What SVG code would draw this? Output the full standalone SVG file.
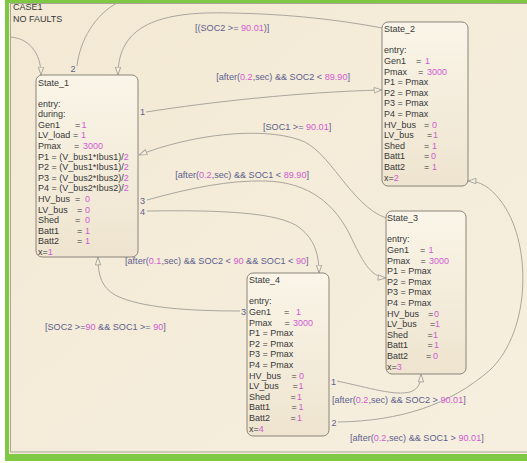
<svg xmlns="http://www.w3.org/2000/svg" width="527" height="463" viewBox="0 0 527 463">
<defs>
<linearGradient id="bg" x1="0" y1="0" x2="1" y2="1"><stop offset="0" stop-color="#f3e9d4"/><stop offset="1" stop-color="#f6efdf"/></linearGradient>
<linearGradient id="sg" x1="0" y1="0" x2="0" y2="1"><stop offset="0" stop-color="#faf5e8"/><stop offset="1" stop-color="#eee4cf"/></linearGradient>
<marker id="ah" markerUnits="userSpaceOnUse" markerWidth="9" markerHeight="7" viewBox="0 0 9 7" refX="8.5" refY="3.5" orient="auto"><path d="M0.6,0.8 L8.4,3.5 L0.6,6.2 Z" fill="#f5eedd" stroke="#a3a097" stroke-width="0.9"/></marker>
<style>
.t{font-family:"Liberation Sans",Arial,sans-serif;font-size:9px;fill:#383838}
.v{fill:#d25ad2}
.l{font-family:"Liberation Sans",Arial,sans-serif;font-size:9.1px;fill:#5c5f8e}
.st{fill:url(#sg);stroke:#8a847a;stroke-width:1}
.c{fill:none;stroke:#aaa69e;stroke-width:1}
</style>
</defs>
<rect x="0" y="0" width="527" height="463" fill="#ffffff"/>
<rect x="5" y="-2" width="530" height="463" fill="#7fc844"/>
<rect x="9" y="3" width="520" height="451" fill="url(#bg)"/>
<rect x="10.5" y="3.5" width="520" height="448.5" fill="none" stroke="#aaa396" stroke-width="1"/>
<text class="t" x="13" y="10">CASE1</text>
<text class="t" x="13" y="21.5">NO FAULTS</text>

<g id="connectors">
<path class="c" d="M10,37 C28,38 41,52 41,75" marker-end="url(#ah)"/>
<path class="c" d="M77,66 C80,40 95,15 117,3"/>
<path class="c" d="M382,28 C340,20 290,14 230,13 C160,11 118,25 118,75" marker-end="url(#ah)"/>
<path class="c" d="M146,112 C210,102 300,92 382,90" marker-end="url(#ah)"/>
<path class="c" d="M386,218 C350,205 330,150 300,140 C260,126 190,135 139,155" marker-end="url(#ah)"/>
<path class="c" d="M147,200 C190,188 230,180 265,181 C310,182 335,205 350,235 C362,260 370,277 386,278" marker-end="url(#ah)"/>
<path class="c" d="M147,211 C220,210 280,212 300,228 C315,240 319,255 319,273" marker-end="url(#ah)"/>
<path class="c" d="M240,311 C190,311 140,308 115,295 C102,287 98,277 98,257" marker-end="url(#ah)"/>
<path class="c" d="M337,381 C370,388 395,396 410,392 C419,389 421,382 421,374" marker-end="url(#ah)"/>
<path class="c" d="M338,422 C400,421 450,405 490,370 C532,330 532,240 500,200 C490,187 480,181 468,181" marker-end="url(#ah)"/>
<text class="l" x="70.5" y="71.5">2</text>
<text class="l" x="140" y="114.5">1</text>
<text class="l" x="140" y="203.5">3</text>
<text class="l" x="140" y="214.5">4</text>
<text class="l" x="241" y="314.5">3</text>
<text class="l" x="331" y="384.5">1</text>
<text class="l" x="331.5" y="425.5">2</text>
<text class="l" x="195" y="30.5">[(SOC2 &gt;= <tspan class="v">90.01</tspan>)]</text>
<text class="l" x="350" y="79.5" text-anchor="end">[after(<tspan class="v">0.2</tspan>,sec) &amp;&amp; SOC2 &lt; <tspan class="v">89.90</tspan>]</text>
<text class="l" x="263" y="129.5">[SOC1 &gt;= <tspan class="v">90.01</tspan>]</text>
<text class="l" x="309" y="177.5" text-anchor="end">[after(<tspan class="v">0.2</tspan>,sec) &amp;&amp; SOC1 &lt; <tspan class="v">89.90</tspan>]</text>
<text class="l" x="125" y="263.5">[after(<tspan class="v">0.1</tspan>,sec) &amp;&amp; SOC2 &lt; <tspan class="v">90</tspan> &amp;&amp; SOC1 &lt; <tspan class="v">90</tspan>]</text>
<text class="l" x="45" y="329.5">[SOC2 &gt;=<tspan class="v">90</tspan> &amp;&amp; SOC1 &gt;= <tspan class="v">90</tspan>]</text>
<text class="l" x="332" y="402.5">[after(<tspan class="v">0.2</tspan>,sec) &amp;&amp; SOC2 &gt; <tspan class="v">90.01</tspan>]</text>
<text class="l" x="350" y="441">[after(<tspan class="v">0.2</tspan>,sec) &amp;&amp; SOC1 &gt; <tspan class="v">90.01</tspan>]</text>
</g>

<g id="State_1">
<rect class="st" x="36" y="75" width="102" height="182" rx="6"/>
<text class="t" x="38" y="85.5">State_1</text>
<text class="t" x="38" y="106.5">entry:</text>
<text class="t" x="38" y="117.1">during:</text>
<text class="t" x="38" y="127.7">Gen1<tspan x="75">=</tspan><tspan class="v" x="81.5">1</tspan></text>
<text class="t" x="38" y="138.3">LV_load<tspan x="73">=</tspan><tspan class="v" x="81">1</tspan></text>
<text class="t" x="38" y="148.9">Pmax<tspan x="74">=</tspan><tspan class="v" x="83">3000</tspan></text>
<text class="t" x="38" y="159.5">P1 = (V_bus1*Ibus1)/<tspan class="v">2</tspan></text>
<text class="t" x="38" y="170.1">P2 = (V_bus1*Ibus1)/<tspan class="v">2</tspan></text>
<text class="t" x="38" y="180.7">P3 = (V_bus2*Ibus2)/<tspan class="v">2</tspan></text>
<text class="t" x="38" y="191.3">P4 = (V_bus2*Ibus2)/<tspan class="v">2</tspan></text>
<text class="t" x="38" y="201.9">HV_bus<tspan x="75">=</tspan><tspan class="v" x="85">0</tspan></text>
<text class="t" x="38" y="212.5">LV_bus<tspan x="77">=</tspan><tspan class="v" x="85">0</tspan></text>
<text class="t" x="38" y="223.1">Shed<tspan x="75">=</tspan><tspan class="v" x="85">0</tspan></text>
<text class="t" x="38" y="233.7">Batt1<tspan x="77">=</tspan><tspan class="v" x="85">1</tspan></text>
<text class="t" x="38" y="244.3">Batt2<tspan x="77">=</tspan><tspan class="v" x="85">1</tspan></text>
<text class="t" x="38" y="254.9">x=<tspan class="v">1</tspan></text>
</g>

<g id="State_2">
<rect class="st" x="382" y="22" width="86" height="164" rx="6"/>
<text class="t" x="384" y="32.3">State_2</text>
<text class="t" x="384" y="53.3">entry:</text>
<text class="t" x="384" y="63.9">Gen1<tspan x="416">=</tspan><tspan class="v" x="425">1</tspan></text>
<text class="t" x="384" y="74.5">Pmax<tspan x="418">=</tspan><tspan class="v" x="427">3000</tspan></text>
<text class="t" x="384" y="85.1">P1 = Pmax</text>
<text class="t" x="384" y="95.7">P2 = Pmax</text>
<text class="t" x="384" y="106.3">P3 = Pmax</text>
<text class="t" x="384" y="116.9">P4 = Pmax</text>
<text class="t" x="384" y="127.5">HV_bus<tspan x="424">=</tspan><tspan class="v" x="432">0</tspan></text>
<text class="t" x="384" y="138.1">LV_bus<tspan x="427">=</tspan><tspan class="v" x="433">1</tspan></text>
<text class="t" x="384" y="148.7">Shed<tspan x="424">=</tspan><tspan class="v" x="432">1</tspan></text>
<text class="t" x="384" y="159.3">Batt1<tspan x="424">=</tspan><tspan class="v" x="431">0</tspan></text>
<text class="t" x="384" y="169.9">Batt2<tspan x="424">=</tspan><tspan class="v" x="432">1</tspan></text>
<text class="t" x="384" y="180.5">x=<tspan class="v">2</tspan></text>
</g>

<g id="State_3">
<rect class="st" x="386" y="211" width="80" height="163" rx="6"/>
<text class="t" x="387" y="221.3">State_3</text>
<text class="t" x="387" y="242.3">entry:</text>
<text class="t" x="387" y="252.9">Gen1<tspan x="420">=</tspan><tspan class="v" x="428.5">1</tspan></text>
<text class="t" x="387" y="263.5">Pmax<tspan x="420.5">=</tspan><tspan class="v" x="429">3000</tspan></text>
<text class="t" x="387" y="274.1">P1 = Pmax</text>
<text class="t" x="387" y="284.7">P2 = Pmax</text>
<text class="t" x="387" y="295.3">P3 = Pmax</text>
<text class="t" x="387" y="305.9">P4 = Pmax</text>
<text class="t" x="387" y="316.5">HV_bus<tspan x="428">=</tspan><tspan class="v" x="434">0</tspan></text>
<text class="t" x="387" y="327.1">LV_bus<tspan x="430">=</tspan><tspan class="v" x="435">1</tspan></text>
<text class="t" x="387" y="337.7">Shed<tspan x="427.5">=</tspan><tspan class="v" x="433">1</tspan></text>
<text class="t" x="387" y="348.3">Batt1<tspan x="427.5">=</tspan><tspan class="v" x="434">1</tspan></text>
<text class="t" x="387" y="358.9">Batt2<tspan x="426">=</tspan><tspan class="v" x="433">0</tspan></text>
<text class="t" x="387" y="369.5">x=<tspan class="v">3</tspan></text>
</g>

<g id="State_4">
<rect class="st" x="247" y="273" width="82" height="163" rx="6"/>
<text class="t" x="249" y="283.3">State_4</text>
<text class="t" x="249" y="304.3">entry:</text>
<text class="t" x="249" y="314.9">Gen1<tspan x="284">=</tspan><tspan class="v" x="296">1</tspan></text>
<text class="t" x="249" y="325.5">Pmax<tspan x="284.5">=</tspan><tspan class="v" x="293">3000</tspan></text>
<text class="t" x="249" y="336.1">P1 = Pmax</text>
<text class="t" x="249" y="346.7">P2 = Pmax</text>
<text class="t" x="249" y="357.3">P3 = Pmax</text>
<text class="t" x="249" y="367.9">P4 = Pmax</text>
<text class="t" x="249" y="378.5">HV_bus<tspan x="291.5">=</tspan><tspan class="v" x="299">0</tspan></text>
<text class="t" x="249" y="389.1">LV_bus<tspan x="292.5">=</tspan><tspan class="v" x="298.5">1</tspan></text>
<text class="t" x="249" y="399.7">Shed<tspan x="290.5">=</tspan><tspan class="v" x="297">1</tspan></text>
<text class="t" x="249" y="410.3">Batt1<tspan x="291.5">=</tspan><tspan class="v" x="298.5">1</tspan></text>
<text class="t" x="249" y="420.9">Batt2<tspan x="290.5">=</tspan><tspan class="v" x="297">1</tspan></text>
<text class="t" x="249" y="431.5">x=<tspan class="v">4</tspan></text>
</g>
</svg>
